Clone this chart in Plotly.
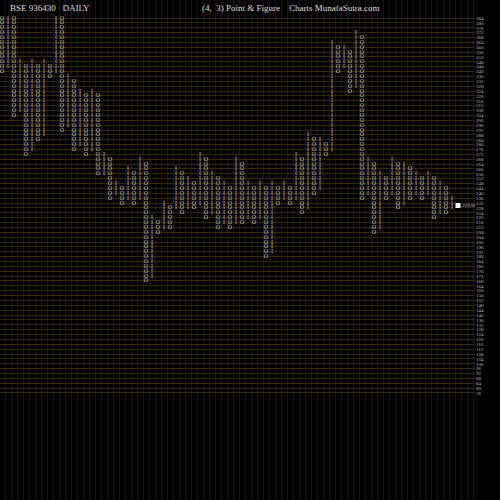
import plotly.graph_objects as go

col_types = list("OXOXOXOXOXOXOXOXOXOXOXOXOXOXOXOXOXOXOXOXOXOXOXOXOXOXOXOXOXOXOXOXOXOXOXOXOXOX")
col_tops = [384,384,384,348,344,348,344,348,344,384,384,336,332,324,320,324,320,272,268,248,244,260,256,268,264,220,216,232,228,260,
            256,252,248,272,268,256,252,248,244,268,264,248,244,248,244,248,244,248,244,272,268,288,284,284,280,364,360,360,356,372,
            368,268,264,256,252,268,264,264,260,256,252,256,252,248,244,236]
col_bottoms = [340,344,304,308,272,276,284,288,336,340,292,296,276,280,272,276,256,256,236,240,232,236,232,236,168,172,208,212,212,228,
               224,228,228,232,220,224,212,216,212,216,216,220,216,220,188,192,232,236,232,236,224,228,240,244,272,276,340,344,324,328,
               236,240,208,212,236,240,228,232,236,240,236,240,220,224,224,228]
box = 4
last_price = 229.98
price_ticks = list(range(76, 385, 4))

ox, oy, xx, xy = [], [], [], []
for i, (t, top, bot) in enumerate(zip(col_types, col_tops, col_bottoms)):
    for p in range(bot, top + 1, box):
        if t == "O":
            ox.append(i + 1); oy.append(p)
        else:
            xx.append(i + 1); xy.append(p)

fig = go.Figure()
fig.add_trace(go.Scatter(x=ox, y=oy, mode="text", text=["O"] * len(ox),
                         textfont=dict(family="Liberation Serif", size=6, color="#c4c4c4"),
                         hoverinfo="skip", showlegend=False))
fig.add_trace(go.Scatter(x=xx, y=xy, mode="text", text=["I"] * len(xx),
                         textfont=dict(family="Liberation Serif", size=6, color="#c4c4c4"),
                         hoverinfo="skip", showlegend=False))
fig.add_trace(go.Scatter(x=[len(col_types) + 1], y=[last_price], mode="markers+text",
                         marker=dict(symbol="square", size=5, color="white"),
                         text=[f"{last_price:.2f}"], textposition="middle right",
                         textfont=dict(family="Liberation Serif", size=5, color="#cccccc"),
                         showlegend=False, hoverinfo="skip"))

fig.update_layout(
    width=500, height=500, paper_bgcolor="black", plot_bgcolor="black",
    margin=dict(l=0, r=25, t=0, b=0, autoexpand=False),
    xaxis=dict(range=[0.667, 79.83], tickvals=[i + 0.5 for i in range(0, 80)],
               showticklabels=False, showgrid=True, gridcolor="#1c1307", gridwidth=1,
               zeroline=False, showline=False, automargin=False),
    yaxis=dict(range=[-11.9, 398.8], side="right", tickvals=price_ticks,
               ticktext=[str(v) for v in price_ticks],
               tickfont=dict(family="Liberation Serif", size=5, color="#bbbbbb"),
               showgrid=True, gridcolor="#33240c", gridwidth=1, zeroline=False,
               ticks="", showline=False, automargin=False),
    annotations=[
        dict(x=8/475, y=1-8/500, xref="paper", yref="paper", text="BSE 936430   DAILY", showarrow=False,
             xanchor="left", yanchor="middle", font=dict(family="Liberation Serif", size=9, color="#dddddd")),
        dict(x=200/475, y=1-8/500, xref="paper", yref="paper", text="(4,  3) Point &amp; Figure    Charts MunafaSutra.com",
             showarrow=False, xanchor="left", yanchor="middle",
             font=dict(family="Liberation Serif", size=9, color="#dddddd")),
    ],
)
fig.write_html("out.html", config={"displayModeBar": False},
               post_script="document.body.style.margin='0';document.body.style.background='black';")
